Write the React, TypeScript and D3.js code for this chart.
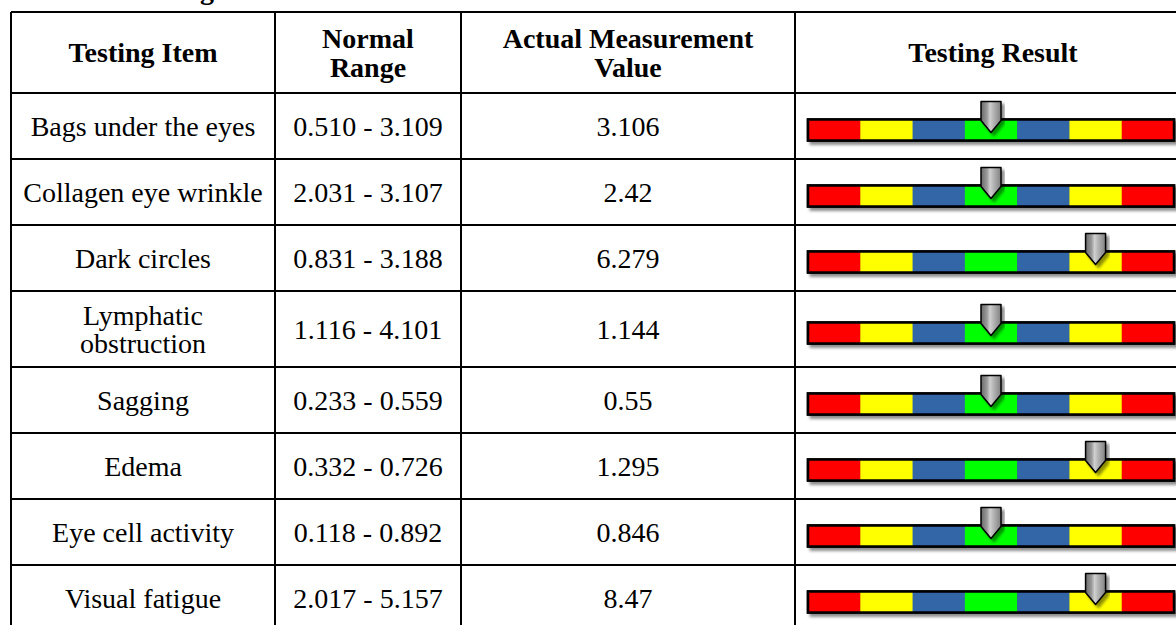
import React from "react";
import * as d3 from "d3";

const headers: string[][] = [
  ["Testing Item"],
  ["Normal", "Range"],
  ["Actual Measurement", "Value"],
  ["Testing Result"],
];
const items: string[][] = [
  ["Bags under the eyes"],
  ["Collagen eye wrinkle"],
  ["Dark circles"],
  ["Lymphatic", "obstruction"],
  ["Sagging"],
  ["Edema"],
  ["Eye cell activity"],
  ["Visual fatigue"],
];
const ranges: string[] = [
  "0.510 - 3.109",
  "2.031 - 3.107",
  "0.831 - 3.188",
  "1.116 - 4.101",
  "0.233 - 0.559",
  "0.332 - 0.726",
  "0.118 - 0.892",
  "2.017 - 5.157",
];
const values: string[] = ["3.106", "2.42", "6.279", "1.144", "0.55", "1.295", "0.846", "8.47"];
// index of the gauge segment the marker points at
const levels: number[] = [3, 3, 5, 3, 3, 5, 3, 5];
const segmentColors: string[] = ["#FF0000", "#FFFF00", "#3366A6", "#00FF00", "#3366A6", "#FFFF00", "#FF0000"];

const W = 1176;
const H = 625;
const colX = [11, 275, 461, 795, 1190];
const headerTop = 12;
const headerBottom = 93;
const rowHeights = [66, 66, 66, 76, 66, 66, 66, 66];
const rowY: number[] = [headerBottom];
rowHeights.forEach((h, i) => rowY.push(rowY[i] + h));

const FONT = "'Liberation Serif', 'Times New Roman', serif";
const FS = 28;

function CellText({ lines, cx, cy, bold, lh }: { lines: string[]; cx: number; cy: number; bold?: boolean; lh: number }) {
  const n = lines.length;
  return (
    <g>
      {lines.map((t, i) => (
        <text
          key={i}
          x={cx}
          y={cy + (i - (n - 1) / 2) * lh}
          textAnchor="middle"
          dominantBaseline="central"
          fontFamily={FONT}
          fontSize={FS}
          fontWeight={bold ? "bold" : "normal"}
          fill="#000"
        >
          {t}
        </text>
      ))}
    </g>
  );
}

export default function App() {
  const seg = d3.scaleBand<number>().domain(d3.range(segmentColors.length)).range([808, 1174]).paddingInner(0);
  const barH = 21;
  const colCenter = (i: number) => (colX[i] + colX[i + 1]) / 2;
  return (
    <svg width={W} height={H} style={{ position: "absolute", left: 0, top: 0, background: "#fff" }}>
      <defs>
        <filter id="shadow" x="-20%" y="-50%" width="140%" height="200%">
          <feDropShadow dx="3" dy="3" stdDeviation="1.5" floodColor="#000" floodOpacity="0.45" />
        </filter>
        <linearGradient id="pen" x1="0" x2="1" y1="0" y2="0">
          <stop offset="0" stopColor="#6a6a6a" />
          <stop offset="0.3" stopColor="#9a9a9a" />
          <stop offset="0.45" stopColor="#d0d0d0" />
          <stop offset="0.6" stopColor="#b8b8b8" />
          <stop offset="1" stopColor="#808080" />
        </linearGradient>
      </defs>
      <rect x={0} y={0} width={W} height={H} fill="#fff" />
      <text x={214} y={-1} textAnchor="end" fontFamily={FONT} fontSize={28} fontWeight="bold">
        Detailed Testing
      </text>

      {/* header */}
      {headers.map((h, i) => (
        <CellText key={i} lines={h} cx={i === 3 ? 993 : colCenter(i)} cy={(headerTop + headerBottom) / 2} bold lh={29} />
      ))}

      {/* rows */}
      {items.map((it, r) => {
        const cy = (rowY[r] + rowY[r + 1]) / 2;
        const barTop = cy + 4 - barH / 2;
        const mx = (seg(levels[r]) as number) + seg.bandwidth() / 2;
        return (
          <g key={r}>
            <CellText lines={it} cx={colCenter(0)} cy={cy} lh={28} />
            <CellText lines={[ranges[r]]} cx={colCenter(1)} cy={cy} lh={28} />
            <CellText lines={[values[r]]} cx={colCenter(2)} cy={cy} lh={28} />
            <g filter="url(#shadow)">
              <rect x={808} y={barTop} width={1174 - 808} height={barH} fill="#000" stroke="#000" strokeWidth={2.5} />
              {segmentColors.map((c, k) => (
                <rect key={k} x={seg(k)} y={barTop} width={seg.bandwidth() + 0.5} height={barH} fill={c} />
              ))}
              <rect x={808} y={barTop} width={1174 - 808} height={barH} fill="none" stroke="#000" strokeWidth={2.5} />
            </g>
            <g filter="url(#shadow)">
              <path
                d={`M${mx - 10},${barTop - 18} L${mx + 10},${barTop - 18} L${mx + 10},${barTop + 1} L${mx},${barTop + 13} L${mx - 10},${barTop + 1} Z`}
                fill="url(#pen)"
                stroke="#000"
                strokeWidth={1.5}
                strokeLinejoin="round"
              />
            </g>
          </g>
        );
      })}

      {/* grid lines */}
      <g stroke="#000" strokeWidth={2}>
        {colX.map((x, i) => (
          <line key={"v" + i} x1={x} x2={x} y1={headerTop} y2={rowY[rowY.length - 1]} />
        ))}
        {[headerTop, ...rowY].map((y, i) => (
          <line key={"h" + i} x1={colX[0]} x2={colX[colX.length - 1]} y1={y} y2={y} />
        ))}
      </g>
    </svg>
  );
}
